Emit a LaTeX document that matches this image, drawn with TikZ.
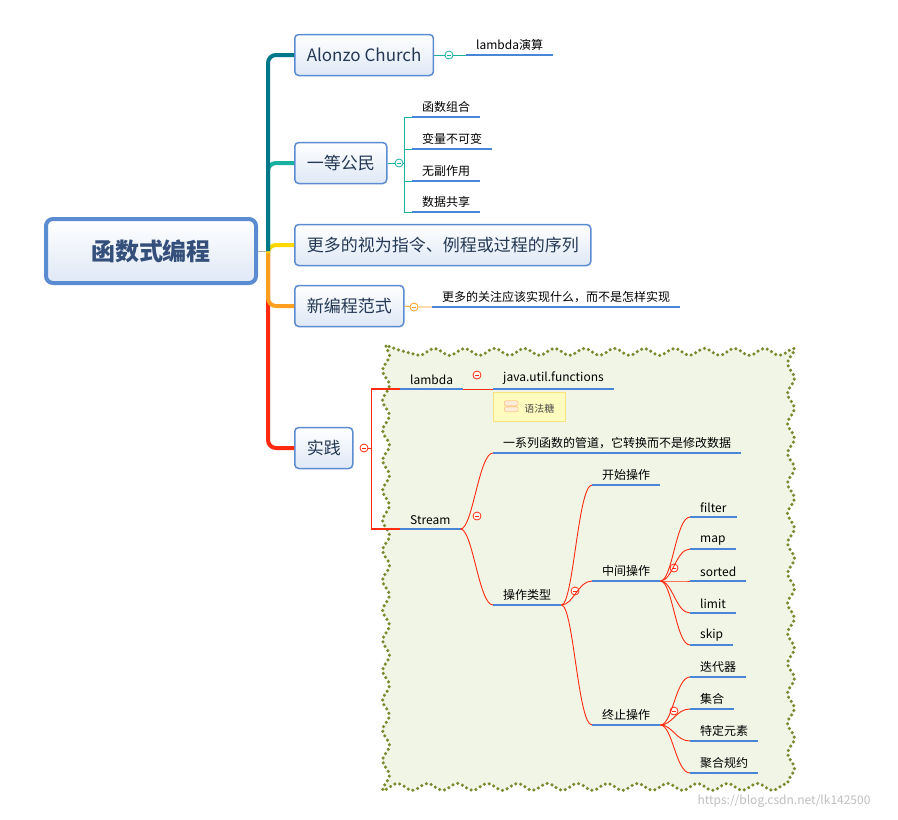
\documentclass[tikz,border=0pt]{standalone}
\usepackage{fontspec}
\setmainfont{Noto Sans CJK SC}
\usetikzlibrary{decorations.pathmorphing}
\definecolor{boxline}{HTML}{5B8BD0}
\definecolor{boxtext}{HTML}{34507A}
\definecolor{ulblue}{HTML}{4A86D8}
\definecolor{cTeal}{HTML}{00788A}
\definecolor{cGreen}{HTML}{1AB0A0}
\definecolor{cYellow}{HTML}{FFD800}
\definecolor{cOrange}{HTML}{FF9F20}
\definecolor{cRed}{HTML}{FF2A10}
\definecolor{areafill}{HTML}{F1F5E6}
\definecolor{areadots}{HTML}{7A8A30}
\tikzset{
  topic/.style={draw=boxline,line width=1.5pt,rounded corners=4pt,anchor=west,
    top color=white,bottom color=boxline!20,inner xsep=12pt,minimum height=41pt,
    font=\fontsize{17}{19}\selectfont,text=boxtext!70!black},
  root/.style={topic,anchor=center,line width=4pt,rounded corners=7pt,minimum width=210pt,
    minimum height=64pt,font=\fontsize{24}{27}\selectfont\bfseries,text=boxtext},
  item/.style={anchor=south west,inner xsep=10pt,inner ysep=4pt,
    font=\fontsize{12}{14}\selectfont,
    append after command={(\tikzlastnode.south west) edge[uline] (\tikzlastnode.south east)}},
  uline/.style={draw=ulblue,line width=2.5pt},
  fold/.style={circle,draw=#1,fill=white,line width=0.8pt,minimum size=8pt,inner sep=0pt,
    path picture={\draw[#1,line width=0.8pt] ([xshift=-2pt]path picture bounding box.center)
      -- ([xshift=2pt]path picture bounding box.center);}},
  branch/.style={line width=4pt,rounded corners=8pt},
  twig/.style={draw=#1,line width=0.9pt},
  swoop/.style={to path={.. controls +(12,0) and +(-14,0) .. (\tikztotarget)}},
  wavy/.style={decorate,decoration={snake,amplitude=3.5pt,segment length=30pt}},
}
\begin{document}
\begin{tikzpicture}[x=1pt,y=-1pt]
\useasboundingbox (0,0) rectangle (898,820);
% practice area
\fill[areafill,wavy] (386,346) rectangle (781,786);
\draw[areadots,line width=3.5pt,dash pattern=on 0pt off 5pt,line cap=round,wavy]
  (386,346) rectangle (781,786);

% main topics
\node[root] (prog) at (151,251) {函数式编程};
\node[topic] (church) at (294,55) {Alonzo Church};
\node[topic] (citizen) at (294,163) {一等公民};
\node[topic] (seq) at (294,245) {更多的视为指令、例程或过程的序列};
\node[topic] (paradigm) at (294,306) {新编程范式};
\node[topic] (practice) at (294,448) {实践};

\coordinate (hub) at (268,251);
\draw[gray!60,line width=1pt] (prog.east) -- (hub);
\draw[branch,cRed] (hub) |- (practice.west);
\draw[branch,cOrange] (hub) |- (paradigm.west);
\draw[branch,cYellow] (hub) |- (seq.west);
\draw[branch,cGreen] (hub) |- (citizen.west);
\draw[branch,cTeal] (hub) |- (church.west);

% Alonzo Church
\node[fold=cGreen] (fChurch) at (449,55) {};
\node[item] (calc) at (466,55) {lambda演算};
\draw[twig=cGreen] (church.east) -- (fChurch) -- (calc.south west);

% first-class citizen
\node[fold=cGreen] (fCitizen) at (399,163) {};
\node[item] (compose) at (412,117) {函数组合};
\node[item] (immut) at (412,149) {变量不可变};
\node[item] (nosides) at (412,181) {无副作用};
\node[item] (share) at (412,212) {数据共享};
\draw[twig=cGreen] (citizen.east) -- (fCitizen);
\draw[twig=cGreen] (compose.south west) -- ++(-8,0) |- (share.south west);
\draw[twig=cGreen] (fCitizen) -- ++(5,0);
\draw[twig=cGreen] (immut.south west) -- ++(-8,0);
\draw[twig=cGreen] (nosides.south west) -- ++(-8,0);

% new paradigm
\node[fold=cOrange] (fParadigm) at (414,307) {};
\node[item] (what) at (432,307) {更多的关注应该实现什么，而不是怎样实现};
\draw[twig=cOrange] (paradigm.east) -- (fParadigm) -- (what.south west);

% practice
\node[fold=cRed] (fPractice) at (364,448) {};
\node[item] (lambda) at (400,389) {lambda};
\node[item] (stream) at (400,529) {Stream};
\coordinate (bar) at (371.5,448);
\draw[twig=cRed] (fPractice) -- (bar);
\draw[twig=cRed,line width=1.2pt] (bar) |- (lambda.south west);
\draw[twig=cRed,line width=1.2pt] (bar) |- (stream.south west);

\node[fold=cRed] (fLambda) at (477,375) {};
\node[item] (javafn) at (493,389) {java.util.functions};
\draw[twig=cRed] (lambda.south east) -- (javafn.south west);
\node[anchor=north west,draw=yellow!60!orange!50,fill=yellow!25,minimum width=72pt,
  minimum height=29pt,font=\fontsize{10}{12}\selectfont,text=black!70] (sugar) at (493,392)
  {\tikz[x=1pt,y=1pt]{\draw[orange!60,fill=orange!15,rounded corners=2pt] (0,0) rectangle (14,5)
   (0,6) rectangle (14,11);}\hspace{6pt}语法糖};

\node[fold=cRed] (fStream) at (477,516) {};
\node[item] (pipe) at (493,453) {一系列函数的管道，它转换而不是修改数据};
\node[item] (optype) at (493,605) {操作类型};
\draw[twig=cRed] (stream.south east) to[swoop] (pipe.south west);
\draw[twig=cRed] (stream.south east) to[swoop] (optype.south west);

\node[fold=cRed] (fOptype) at (575,591) {};
\node[item] (start) at (592,485) {开始操作};
\node[item] (middle) at (592,581) {中间操作};
\node[item] (final) at (592,725) {终止操作};
\foreach \n in {start,middle,final}
  \draw[twig=cRed] (optype.south east) to[swoop] (\n.south west);

\node[fold=cRed] (fMiddle) at (674,568) {};
\node[item] (filter) at (690,517) {filter};
\node[item] (map) at (690,549) {map};
\node[item] (sorted) at (690,581) {sorted};
\node[item] (limit) at (690,613) {limit};
\node[item] (skip) at (690,645) {skip};
\foreach \n in {filter,map,sorted,limit,skip}
  \draw[twig=cRed] (middle.south east) to[swoop] (\n.south west);

\node[fold=cRed] (fFinal) at (674,711) {};
\node[item] (iter) at (690,677) {迭代器};
\node[item] (coll) at (690,709) {集合};
\node[item] (elem) at (690,741) {特定元素};
\node[item] (reduce) at (690,773) {聚合规约};
\foreach \n in {iter,coll,elem,reduce}
  \draw[twig=cRed] (final.south east) to[swoop] (\n.south west);

\node[text=gray!50,font=\fontsize{12}{14}\selectfont] (mark) at (784,801)
  {https://blog.csdn.net/lk142500};
\end{tikzpicture}
\end{document}
